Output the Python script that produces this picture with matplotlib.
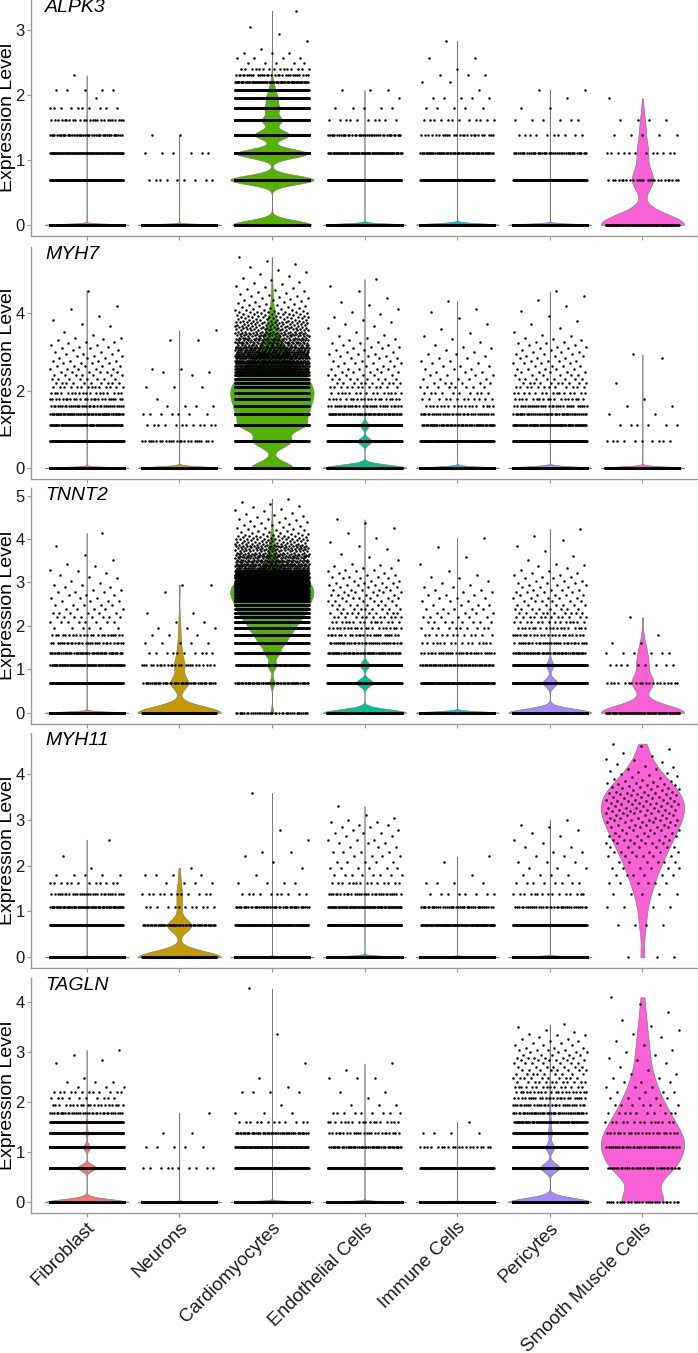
import numpy as np
import matplotlib as mpl
from matplotlib import pyplot as plt
from matplotlib import cbook

mpl.rc('font', family=['Liberation Sans', 'DejaVu Sans'])

cell_types = ["Fibroblast", "Neurons", "Cardiomyocytes", "Endothelial Cells",
              "Immune Cells", "Pericytes", "Smooth Muscle Cells"]
colors = ["#F8766D", "#C49A00", "#53B400", "#00C094", "#00B6EB", "#A58AFF", "#FB61D7"]
genes = ["ALPK3", "MYH7", "TNNT2", "MYH11", "TAGLN"]
yticks = [[0, 1, 2, 3], [0, 2, 4], [0, 1, 2, 3, 4, 5], [0, 1, 2, 3, 4], [0, 1, 2, 3, 4]]

# cells per raw UMI count k = 0, 1, 2, ... (expression level = log1p(k)),
# one list per cell type in the order of cell_types
alpk3_counts = [
    [25000, 150, 90, 45, 25, 10, 1, 5, 0, 1],
    [3000, 9, 6, 2],
    [3600, 3800, 3230, 1560, 900, 630, 475, 250, 75, 30, 15, 5, 4, 3, 1, 0, 1, 0, 1, 0, 1,
     0, 0, 0, 0, 0, 1],
    [15000, 200, 80, 40, 10, 5, 1, 3],
    [12000, 150, 60, 25, 12, 5, 5, 1, 2, 3, 1, 0, 2, 0, 0, 0, 1],
    [12000, 150, 45, 10, 6, 2, 1, 2],
    [100, 25, 12, 5, 4, 0, 1],
]
# raw UMI counts of isolated high-expressing cells
alpk3_tail = [[], [], [], [], [], [], []]

myh7_counts = [
    [25000, 150, 80, 60, 35, 25, 18, 14, 10, 8, 7, 6, 5, 5, 4, 4, 3, 3, 3, 2, 2, 2, 2, 2,
     1, 2, 1, 1, 2, 0, 1],
    [3000, 25, 12, 7, 4, 1, 0, 3, 0, 0, 1, 2, 2],
    [410, 355, 550, 450, 380, 340, 300, 257, 215, 180, 150, 126, 110, 93, 80, 68, 59, 52,
     46, 40, 34, 30, 26, 23, 20, 18, 17, 15, 14, 13, 12, 11, 11, 10, 9, 9, 8, 8, 7, 7, 6,
     6, 5, 5, 5, 5, 4, 4, 4, 4, 4, 3, 3, 3, 3, 3, 3, 2, 2, 2, 2],
    [5000, 850, 500, 60, 30, 20, 15, 12, 10, 8, 6, 5, 5, 4, 4, 3, 3, 3, 3, 2, 2, 2, 2, 2,
     2, 1, 1, 1, 1, 1, 1],
    [12000, 150, 60, 35, 18, 12, 10, 8, 6, 5, 4, 3, 3, 3, 2, 2, 2, 1, 2, 1, 1, 1, 1, 1, 0,
     1, 0, 1, 0, 1],
    [14000, 200, 80, 45, 30, 18, 15, 12, 10, 8, 6, 5, 5, 4, 4, 4, 3, 3, 3, 3, 2, 2, 2, 2,
     2, 2, 1, 1, 1, 1, 1],
    [1500, 10, 6, 2, 2, 1, 0, 0, 1, 0, 0, 0, 0, 0, 0, 0, 1, 0, 1],
]
myh7_tail = [
    [33, 38, 40, 45, 50, 60, 64, 97],
    [26, 26, 34],
    [61, 62, 63, 63, 64, 65, 66, 67, 68, 69, 70, 71, 72, 74, 75, 76, 78, 79, 80, 82, 84,
     85, 87, 89, 91, 93, 95, 98, 100, 103, 106, 110, 114, 118, 122, 127, 133, 140, 148,
     156, 165, 180, 195, 212, 232],
    [33, 36, 38, 40, 42, 45, 48, 52, 55, 60, 66, 72, 80, 95, 110, 131],
    [32, 35, 40, 47, 55, 60, 74],
    [33, 36, 40, 44, 50, 57, 64, 75, 85, 95],
    [],
]

tnnt2_counts = [
    [20000, 150, 80, 50, 30, 22, 6, 8, 8, 6, 5, 5, 4, 3, 3, 3, 2, 2, 2, 1, 1, 1, 1, 1, 1,
     1, 1, 0, 1, 0, 1],
    [215, 45, 25, 10, 5, 3, 3, 2, 0, 2, 0, 0, 0, 0, 0, 1, 0, 0, 2],
    [40, 60, 110, 190, 288, 330, 354, 349, 375, 360, 348, 330, 318, 309, 300, 281, 265,
     243, 225, 202, 186, 164, 137, 109, 81, 61, 45, 35, 29, 25, 23, 21, 19, 18, 16, 15,
     14, 13, 12, 12, 11, 10, 10, 9, 8, 8, 7, 7, 7, 6, 6, 5, 5, 5, 4, 4, 4, 4, 3, 3, 3],
    [5000, 1000, 550, 60, 35, 25, 20, 15, 12, 10, 9, 8, 7, 6, 6, 5, 5, 4, 4, 4, 3, 3, 3,
     2, 2, 2, 2, 2, 1, 1, 1],
    [12000, 120, 55, 30, 15, 12, 10, 8, 6, 5, 5, 4, 3, 3, 3, 2, 2, 2, 1, 1, 1, 1, 1, 1, 0,
     1],
    [3500, 600, 300, 50, 30, 22, 18, 14, 12, 10, 8, 7, 6, 5, 5, 4, 4, 3, 3, 3, 3, 2, 2, 2,
     2, 1, 1, 1, 1, 1, 1],
    [80, 20, 9, 6, 2, 1, 0, 0, 1],
]
tnnt2_tail = [
    [33, 37, 45, 62],
    [],
    [61, 61, 62, 63, 63, 64, 65, 66, 66, 67, 68, 69, 70, 71, 72, 73, 74, 75, 76, 78, 79,
     80, 82, 83, 85, 86, 88, 90, 92, 94, 96, 99, 102, 105, 108, 112, 116, 121, 127, 137],
    [33, 35, 38, 42, 45, 50, 55, 62, 70, 77, 85],
    [30, 35, 44, 55],
    [33, 36, 40, 45, 52, 57, 68],
    [],
]

myh11_counts = [
    [20000, 150, 70, 30, 12, 5, 1, 0, 1, 0, 0, 0, 1],
    [210, 60, 12, 12, 4, 4, 1],
    [15000, 120, 45, 10, 4, 1, 1, 1, 1, 2, 0, 0, 1, 0, 0, 1],
    [14000, 200, 80, 30, 14, 8, 6, 5, 4, 4, 3, 3, 3, 2, 3, 2, 2, 2, 2, 1, 1, 1, 0, 0, 0,
     0, 1],
    [10000, 100, 40, 8, 4, 1, 0, 1, 1],
    [12000, 150, 35, 15, 8, 4, 3, 3, 2, 2, 2, 1, 1, 1, 1, 1, 1, 1, 0, 1],
    [3, 4, 4, 5, 6, 6, 6, 6, 6, 6, 6, 6, 6, 6, 5, 5, 5, 5, 5, 5, 5, 5, 5, 4, 4, 4, 4, 4,
     4, 4, 3, 3, 3, 3, 3, 3, 3, 2, 2, 2, 2, 2, 2, 2, 2, 1, 2, 1, 1, 1, 1, 1, 1, 1, 1, 0,
     1, 1, 0, 1, 1],
]
myh11_tail = [[], [], [35], [], [], [],
              [62, 64, 66, 69, 72, 75, 80, 85, 92, 98, 104]]

tagln_counts = [
    [9000, 2000, 750, 300, 150, 35, 20, 10, 12, 3, 3, 1, 0, 0, 0, 1, 1, 0, 1, 0, 1],
    [3000, 10, 5, 2, 0, 1],
    [15000, 150, 100, 50, 12, 3, 1, 0, 4, 1, 0, 1, 0, 0, 0, 1, 0, 0, 0, 0, 0, 0, 0, 0, 0,
     0, 0, 0, 1],
    [14000, 200, 50, 25, 18, 9, 3, 1, 2, 0, 0, 3, 0, 1, 0, 1],
    [12000, 150, 20, 4, 1],
    [3500, 800, 350, 175, 80, 45, 30, 25, 20, 15, 12, 10, 9, 8, 7, 7, 6, 6, 5, 4, 4, 3, 3,
     2, 2, 2, 1, 2, 1, 1, 1, 0, 1, 0, 1],
    [28, 33, 34, 21, 14, 10, 7, 5, 4, 3, 3, 2, 2, 1, 1, 1, 1, 1, 1, 1, 1, 0, 1, 0, 1, 0,
     1, 0, 1, 0, 1],
]
tagln_tail = [[], [], [71], [], [], [], [33, 37, 44, 52, 59]]

all_counts = [alpk3_counts, myh7_counts, tnnt2_counts, myh11_counts, tagln_counts]
all_tails = [alpk3_tail, myh7_tail, tnnt2_tail, myh11_tail, tagln_tail]


def nrd0(x):
    # R's default bandwidth (bw.nrd0), as used by geom_violin
    hi = np.std(x, ddof=1)
    q75, q25 = np.percentile(x, [75, 25])
    lo = min(hi, (q75 - q25) / 1.34)
    if lo == 0:
        lo = hi or abs(x[0]) or 1.0
    return 0.9 * lo * len(x) ** -0.2


def kde(x, coords):
    vals, n = np.unique(x, return_counts=True)
    bw = nrd0(x)
    z = (coords[:, None] - vals[None, :]) / bw
    return (n[None, :] * np.exp(-0.5 * z ** 2)).sum(axis=1)


def expand(counts, tail):
    k = np.concatenate([np.repeat(np.arange(len(counts)), counts),
                        np.asarray(tail, dtype=int)])
    return np.log1p(k)


def jitter(n, phase):
    # deterministic spread of the points over the +/-0.4 jitter band
    return ((np.arange(n) * 0.6180339887 + phase) % 1.0 - 0.5) * 0.8


fig = plt.figure(figsize=(6.98, 13.53), dpi=100)
W, H = 698.0, 1353.0
panel_top = [0, 246.5, 488, 733, 977.5]
panel_height = [235.5, 232, 235.5, 235, 235.5]
axis_grey = '#9a9a9a'

for g, gene in enumerate(genes):
    ax = fig.add_axes([31 / W, 1 - (panel_top[g] + panel_height[g]) / H,
                       667 / W, panel_height[g] / H])
    data = [expand(c, t) for c, t in zip(all_counts[g], all_tails[g])]
    stats = cbook.violin_stats(data, kde, points=512)
    parts = ax.violin(stats, positions=np.arange(1, 8), widths=0.9, showextrema=False)
    for body, col in zip(parts['bodies'], colors):
        body.set_facecolor(col)
        body.set_edgecolor('#7a7a7a')
        body.set_linewidth(0.45)
        body.set_alpha(1)
    for i, y in enumerate(data):
        ax.scatter(i + 1 + jitter(len(y), 0.137 * i + 0.29 * g), y, s=3.2, c='black',
                   linewidths=0, zorder=3)

    ymax = max(y.max() for y in data)
    ax.set_ylim(-0.05 * ymax, 1.05 * ymax)
    ax.set_xlim(0.4, 7.6)
    ax.set_yticks(yticks[g])
    ax.set_xticks(np.arange(1, 8))
    for side in ['top', 'right']:
        ax.spines[side].set_visible(False)
    for side in ['left', 'bottom']:
        ax.spines[side].set_color(axis_grey)
        ax.spines[side].set_linewidth(1.0)
    ax.tick_params(axis='both', length=3, width=0.8, color=axis_grey, labelsize=12,
                   labelcolor='#1a1a1a', pad=1.5)
    if g < len(genes) - 1:
        ax.set_xticklabels([])
    else:
        ax.set_xticklabels(cell_types, rotation=45, ha='right', va='top',
                           rotation_mode='anchor', fontsize=13.5)
    ax.set_ylabel('Expression Level', fontsize=14)
    ax.yaxis.set_label_coords(-0.0225, 0.5)
    ax.text(0.021, 1.004, gene, transform=ax.transAxes, fontsize=14, style='italic',
            va='top', ha='left')

fig.savefig('out.png', dpi=100)
